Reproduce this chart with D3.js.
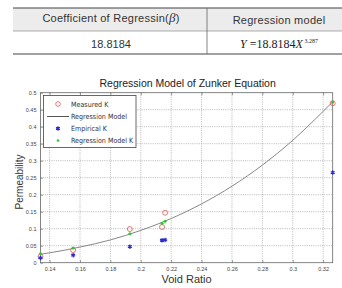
<!DOCTYPE html>
<html>
<head>
<meta charset="utf-8">
<script src="https://cdn.jsdelivr.net/npm/d3@7"></script>
<style>
  body { margin: 0; background: #fff; }
  svg { display: block; }
</style>
</head>
<body>
<div class="chart"></div>
<script>
const width = 342, height = 288;
const fontFamily = 'Arial, "Liberation Sans", sans-serif';

// table contents
const tableHeaders = ['Coefficient of Regressin(', '\u03b2', ')', 'Regression model'];
const coefficient = '18.8184';
const exponent = '3.287';

// measured points
const voidRatio = [0.134, 0.1555, 0.1928, 0.214, 0.216, 0.3263];
const measuredK = [0.018, 0.037, 0.099, 0.105, 0.147, 0.469];
const empiricalK = [0.014, 0.022, 0.047, 0.066, 0.067, 0.265];
const modelK = [0.026, 0.043, 0.085, 0.116, 0.122, 0.473];

// regression curve
const curveX = [0.134, 0.14, 0.16, 0.18, 0.20, 0.22, 0.24, 0.26, 0.28, 0.30, 0.32, 0.3263];
const curveY = [0.025, 0.029, 0.046, 0.067, 0.095, 0.130, 0.173, 0.225, 0.287, 0.360, 0.445, 0.473];

const xTicks = [0.14, 0.16, 0.18, 0.2, 0.22, 0.24, 0.26, 0.28, 0.3, 0.32];
const yTicks = [0, 0.05, 0.1, 0.15, 0.2, 0.25, 0.3, 0.35, 0.4, 0.45, 0.5];
const legendLabels = ['Measured K', 'Regression Model', 'Empirical K', 'Regression Model K'];

let svg = d3.select('.chart')
    .append('svg')
    .attr('width', width)
    .attr('height', height)
    .attr('font-family', fontFamily);

// ---- table ----
let table = svg.append('g');
table.append('rect')
    .attr('x', 13).attr('y', 8).attr('width', width - 13).attr('height', 23)
    .attr('fill', '#ececec');
table.append('line').attr('x1', 13).attr('x2', width).attr('y1', 8).attr('y2', 8)
    .attr('stroke', '#444').attr('stroke-width', 1.2);
table.append('line').attr('x1', 13).attr('x2', width).attr('y1', 31).attr('y2', 31)
    .attr('stroke', '#999').attr('stroke-width', 0.8);
table.append('line').attr('x1', 13).attr('x2', width).attr('y1', 54).attr('y2', 54)
    .attr('stroke', '#444').attr('stroke-width', 1.2);
table.append('line').attr('x1', 207).attr('x2', 207).attr('y1', 8).attr('y2', 54)
    .attr('stroke', '#666').attr('stroke-width', 0.8);

let head = table.append('text')
    .attr('x', 111).attr('y', 22).attr('text-anchor', 'middle')
    .attr('font-size', 11).attr('fill', '#333')
    .attr('letter-spacing', 0.25);
head.append('tspan').text(tableHeaders[0]);
head.append('tspan')
    .attr('font-family', '"Liberation Serif", "DejaVu Serif", serif')
    .attr('font-size', 13).attr('font-style', 'italic')
    .text(tableHeaders[1]);
head.append('tspan').text(tableHeaders[2]);

table.append('text')
    .attr('x', 279).attr('y', 24).attr('text-anchor', 'middle')
    .attr('font-size', 11).attr('fill', '#333')
    .attr('letter-spacing', 0.25)
    .text(tableHeaders[3]);
table.append('text')
    .attr('x', 111).attr('y', 48).attr('text-anchor', 'middle')
    .attr('font-size', 11).attr('fill', '#333')
    .text(coefficient);

let formula = table.append('text')
    .attr('x', 279).attr('y', 48).attr('text-anchor', 'middle')
    .attr('font-family', '"Liberation Serif", "DejaVu Serif", serif')
    .attr('font-size', 12).attr('fill', '#222');
formula.append('tspan').attr('font-style', 'italic').text('Y');
formula.append('tspan').text(' =' + coefficient);
formula.append('tspan').attr('font-style', 'italic').text('X');
formula.append('tspan').attr('dy', -5).attr('font-size', 6).text(' ' + exponent);

// ---- chart ----
let plot = {'left': 40.5, 'right': 332.7, 'top': 92.7, 'bottom': 262.7};

let x = d3.scaleLinear()
    .domain([0.134, 0.3263])
    .range([plot.left, plot.right]);
let y = d3.scaleLinear()
    .domain([0, 0.5])
    .range([plot.bottom, plot.top]);

// title
svg.append('text')
    .attr('x', (plot.left + plot.right) / 2 + 1)
    .attr('y', 87)
    .attr('text-anchor', 'middle')
    .attr('font-size', 10.5)
    .attr('fill', '#222')
    .text('Regression Model of Zunker Equation');

// grid
let grid = svg.append('g')
    .attr('stroke', '#8a8a8a')
    .attr('stroke-width', 0.6)
    .attr('stroke-dasharray', '1,1.2');
grid.selectAll('.vgrid')
    .data(xTicks)
    .enter().append('line')
    .attr('x1', d => x(d)).attr('x2', d => x(d))
    .attr('y1', plot.top).attr('y2', plot.bottom);
grid.selectAll('.hgrid')
    .data(yTicks.slice(1, -1))
    .enter().append('line')
    .attr('y1', d => y(d)).attr('y2', d => y(d))
    .attr('x1', plot.left).attr('x2', plot.right);

// axes
let axis_x = d3.axisBottom(x)
    .tickValues(xTicks)
    .tickSize(-2.5)
    .tickPadding(4)
    .tickFormat(d => d3.format('')(d));
let axis_y = d3.axisLeft(y)
    .tickValues(yTicks)
    .tickSize(-2.5)
    .tickPadding(4)
    .tickFormat(d => d3.format('')(d));

svg.append('g')
    .attr('transform', `translate(0, ${plot.bottom})`)
    .call(axis_x)
    .attr('font-family', fontFamily)
    .attr('font-size', 5.5)
    .call(g => g.select('.domain').remove());
svg.append('g')
    .attr('transform', `translate(${plot.left}, 0)`)
    .call(axis_y)
    .attr('font-family', fontFamily)
    .attr('font-size', 5.5)
    .call(g => g.select('.domain').remove());
svg.selectAll('.tick line').attr('stroke', '#555').attr('stroke-width', 0.6);
svg.selectAll('.tick text').attr('fill', '#444');

// top ticks
svg.append('g')
    .attr('transform', `translate(0, ${plot.top})`)
    .call(d3.axisTop(x).tickValues(xTicks).tickSize(-2.5).tickFormat(''))
    .call(g => g.select('.domain').remove())
    .selectAll('line').attr('stroke', '#555').attr('stroke-width', 0.6);

// frame
svg.append('rect')
    .attr('x', plot.left).attr('y', plot.top)
    .attr('width', plot.right - plot.left)
    .attr('height', plot.bottom - plot.top)
    .attr('fill', 'none')
    .attr('stroke', '#666')
    .attr('stroke-width', 0.8);

// axis labels
svg.append('text')
    .attr('transform', `translate(23, 182) rotate(-90)`)
    .attr('text-anchor', 'middle')
    .attr('font-size', 10)
    .attr('fill', '#333')
    .text('Permeability');
svg.append('text')
    .attr('x', (plot.left + plot.right) / 2)
    .attr('y', 283)
    .attr('text-anchor', 'middle')
    .attr('font-size', 11)
    .attr('fill', '#333')
    .text('Void Ratio');

// regression curve
let curveData = curveX.map((d, i) => [d, curveY[i]]);
svg.append('path')
    .datum(curveData)
    .attr('fill', 'none')
    .attr('stroke', '#888')
    .attr('stroke-width', 1)
    .attr('d', d3.line().x(d => x(d[0])).y(d => y(d[1])).curve(d3.curveMonotoneX));

// measured K
svg.append('g')
    .selectAll('circle')
    .data(voidRatio)
    .enter().append('circle')
    .attr('cx', d => x(d))
    .attr('cy', (d, i) => y(measuredK[i]))
    .attr('r', 2.5)
    .attr('fill', 'none')
    .attr('stroke', '#e05555')
    .attr('stroke-width', 0.8);

// empirical K
let star = d3.symbol().type(d3.symbolAsterisk).size(14);
svg.append('g')
    .selectAll('path')
    .data(voidRatio)
    .enter().append('path')
    .attr('transform', (d, i) => `translate(${x(d)}, ${y(empiricalK[i])})`)
    .attr('d', star)
    .attr('fill', 'none')
    .attr('stroke', '#2a2ad0')
    .attr('stroke-width', 1.2);

// regression model K
svg.append('g')
    .selectAll('circle')
    .data(voidRatio)
    .enter().append('circle')
    .attr('cx', d => x(d))
    .attr('cy', (d, i) => y(modelK[i]))
    .attr('r', 1.5)
    .attr('fill', '#2ec82e');

// legend
let legend = svg.append('g');
legend.append('rect')
    .attr('x', 43.5).attr('y', 95.5).attr('width', 92.5).attr('height', 52)
    .attr('fill', '#fff')
    .attr('stroke', '#444')
    .attr('stroke-width', 0.8);
let rowY = [104, 116.5, 128.5, 140.5];
legendLabels.forEach((label, i) => {
    let cx = 58;
    if (i === 0) {
        legend.append('circle').attr('cx', cx).attr('cy', rowY[i]).attr('r', 2.3)
            .attr('fill', 'none').attr('stroke', '#e05555').attr('stroke-width', 0.8);
    } else if (i === 1) {
        legend.append('line').attr('x1', 47).attr('x2', 69).attr('y1', rowY[i]).attr('y2', rowY[i])
            .attr('stroke', '#555').attr('stroke-width', 1);
    } else if (i === 2) {
        legend.append('path').attr('transform', `translate(${cx}, ${rowY[i]})`).attr('d', star)
            .attr('fill', 'none').attr('stroke', '#2a2ad0').attr('stroke-width', 1.2);
    } else {
        legend.append('circle').attr('cx', cx).attr('cy', rowY[i]).attr('r', 1.3)
            .attr('fill', '#2ec82e');
    }
    legend.append('text')
        .attr('x', 71).attr('y', rowY[i] + 2.6)
        .attr('font-size', 7.1)
        .attr('font-family', '"Liberation Sans Narrow", "DejaVu Sans Condensed", Arial, sans-serif')
        .attr('fill', '#333')
        .text(label);
});
</script>
</body>
</html>
